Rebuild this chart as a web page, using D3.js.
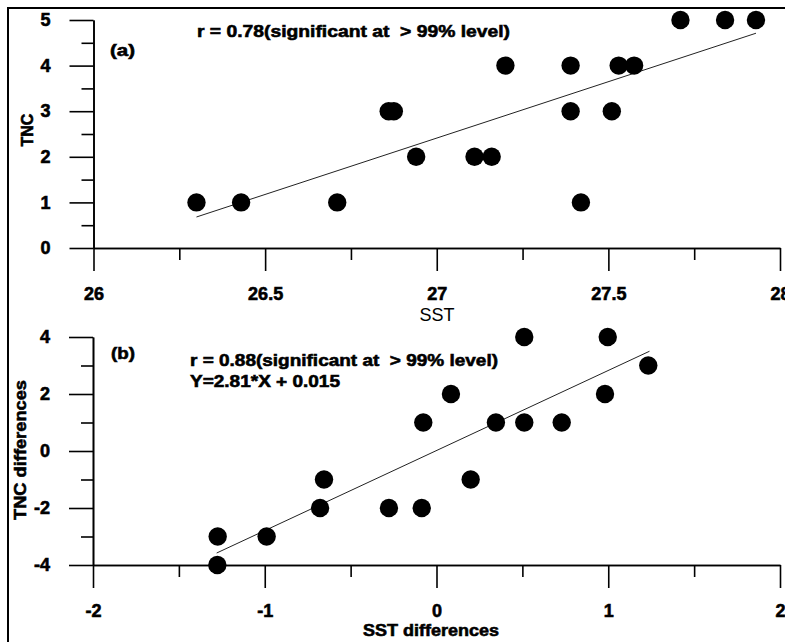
<!DOCTYPE html>
<html>
<head>
<meta charset="utf-8">
<script src="https://cdn.jsdelivr.net/npm/d3@7"></script>
<style>
  body { margin: 0; background: #fff; }
  text { font-family: "Liberation Sans", Arial, sans-serif; fill: #000; white-space: pre; }
  text.heavy { stroke: #000; stroke-width: 0.6px; }
  .tick line, .domain { stroke: #000; stroke-width: 1.6px; }
</style>
</head>
<body>
<div id="container"></div>
<script>
// panel (a): SST vs TNC
const sstA = [26.30, 26.43, 26.71, 27.42, 26.94, 27.11, 27.16, 26.86, 26.875, 27.39, 27.51, 27.20, 27.39, 27.53, 27.575, 27.71, 27.84, 27.93];
const tncA = [1, 1, 1, 1, 2, 2, 2, 3, 3, 3, 3, 4, 4, 4, 4, 5, 5, 5];
const fitAX = [26.30, 27.93];
const fitAY = [0.68, 4.71];
const xTicksA = [26, 26.5, 27, 27.5, 28];
const xMinorA = [26.25, 26.75, 27.25, 27.75];
const yTicksA = [0, 1, 2, 3, 4, 5];
const yMinorA = [0.5, 1.5, 2.5, 3.5, 4.5];

// panel (b): differences
const sstD = [-1.274, -1.276, -0.989, -0.678, -0.655, -0.277, -0.086, -0.077, 0.084, 0.199, 0.346, 0.511, 0.511, 0.729, 0.997, 0.981, 1.233];
const tncD = [-3, -4, -3, -2, -1, -2, -2, 1, 2, -1, 1, 1, 4, 1, 4, 2, 3];
const fitBX = [-1.28, 1.24];
const fitBY = [-3.58, 3.50];
const xTicksB = [-2, -1, 0, 1, 2];
const xMinorB = [-1.5, -0.5, 0.5, 1.5];
const yTicksB = [-4, -2, 0, 2, 4];
const yMinorB = [-3, -1, 1, 3];

const width = 785, height = 642;

const svg = d3.select("#container").append("svg")
    .attr("width", width)
    .attr("height", height);

// outer frame (runs off the right and bottom edges)
svg.append("rect")
    .attr("x", 8).attr("y", 8)
    .attr("width", 800).attr("height", 660)
    .attr("fill", "none")
    .attr("stroke", "#000")
    .attr("stroke-width", 2);

const plain = d => String(d);

function panel({ xs, ys, fx, fy, xDomain, yDomain, xRange, yRange,
                 xTicks, xMinor, yTicks, yMinor }) {
    const x = d3.scaleLinear().domain(xDomain).range(xRange);
    const y = d3.scaleLinear().domain(yDomain).range(yRange);
    const g = svg.append("g");

    g.append("g")
        .attr("transform", "translate(" + xRange[0] + ",0)")
        .call(d3.axisLeft(y).tickValues(yTicks).tickFormat(plain)
            .tickSize(24).tickSizeOuter(0).tickPadding(19));
    g.append("g")
        .attr("transform", "translate(" + xRange[0] + ",0)")
        .call(d3.axisLeft(y).tickValues(yMinor).tickFormat("")
            .tickSize(12).tickSizeOuter(0));

    g.append("g")
        .attr("transform", "translate(0," + yRange[0] + ")")
        .call(d3.axisBottom(x).tickValues(xTicks).tickFormat(plain)
            .tickSize(23).tickSizeOuter(0).tickPadding(16));
    g.append("g")
        .attr("transform", "translate(0," + yRange[0] + ")")
        .call(d3.axisBottom(x).tickValues(xMinor).tickFormat("")
            .tickSize(12).tickSizeOuter(0));

    g.selectAll(".tick text")
        .attr("class", "heavy")
        .style("font-size", "18px")
        .style("font-weight", "bold")
        .style("font-family", "'Liberation Sans', Arial, sans-serif");

    g.append("line")
        .attr("x1", x(fx[0])).attr("y1", y(fy[0]))
        .attr("x2", x(fx[1])).attr("y2", y(fy[1]))
        .attr("stroke", "#222")
        .attr("stroke-width", 1);

    g.selectAll("circle")
        .data(xs.map((d, i) => [d, ys[i]]))
        .enter().append("circle")
        .attr("cx", d => x(d[0]))
        .attr("cy", d => y(d[1]))
        .attr("r", 9.2)
        .attr("fill", "#000");

    return g;
}

panel({
    xs: sstA, ys: tncA, fx: fitAX, fy: fitAY,
    xDomain: [26, 28], yDomain: [0, 5],
    xRange: [93.5, 780], yRange: [248, 20],
    xTicks: xTicksA, xMinor: xMinorA, yTicks: yTicksA, yMinor: yMinorA
});

panel({
    xs: sstD, ys: tncD, fx: fitBX, fy: fitBY,
    xDomain: [-2, 2], yDomain: [-4, 4],
    xRange: [93, 780], yRange: [565, 337],
    xTicks: xTicksB, xMinor: xMinorB, yTicks: yTicksB, yMinor: yMinorB
});

// labels and annotations
function label(txt, x, y, opts = {}) {
    const weight = opts.weight || "bold";
    const t = svg.append("text")
        .attr("x", x).attr("y", y)
        .attr("dy", "0.35em")
        .attr("class", weight === "bold" ? "heavy" : null)
        .attr("text-anchor", opts.anchor || "start")
        .style("font-size", (opts.size || 16) + "px")
        .style("font-weight", weight)
        .text(txt);
    if (opts.len) t.attr("textLength", opts.len).attr("lengthAdjust", "spacingAndGlyphs");
    if (opts.rotate) t.attr("transform", "rotate(-90," + x + "," + y + ")");
    return t;
}

label("(a)", 110, 50, { size: 17, len: 25 });
label("r = 0.78(significant at  > 99% level)", 197, 31, { size: 17, len: 313 });
label("SST", 437, 315, { anchor: "middle", size: 18, weight: "normal" });
label("TNC", 27, 130, { anchor: "middle", size: 16, rotate: true });

label("(b)", 111, 353, { size: 17, len: 24 });
label("r = 0.88(significant at  > 99% level)", 190, 360, { size: 17, len: 308 });
label("Y=2.81*X + 0.015", 190, 381, { size: 17, len: 150 });
label("SST differences", 431, 630, { anchor: "middle", size: 17, len: 136 });
label("TNC differences", 20, 450, { anchor: "middle", size: 17, len: 140, rotate: true });
</script>
</body>
</html>
